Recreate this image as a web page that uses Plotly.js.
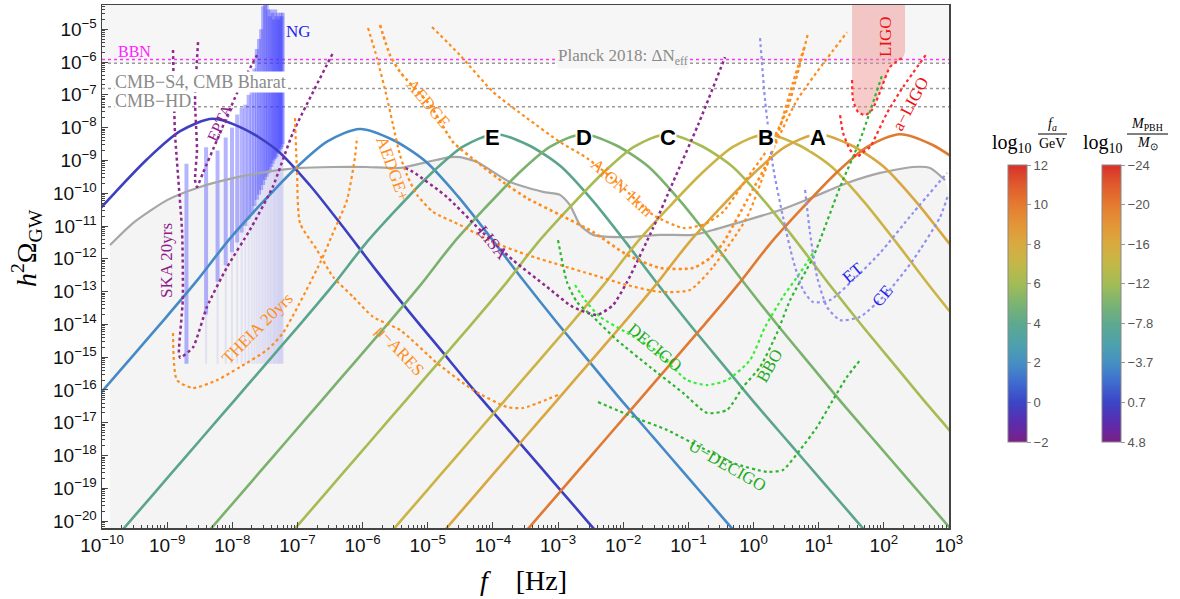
<!DOCTYPE html>
<html><head><meta charset="utf-8">
<script src="https://cdn.plot.ly/plotly-3.0.1.min.js"></script>
<style>html,body{margin:0;padding:0;background:#fff}#plot{width:1180px;height:599px}</style>
</head><body><div id="plot"></div>
<script>
// ---------- DATA (log10 values) ----------
// Axion domain-wall GW spectra (coloured by log10 fa/GeV)
const fa0_logf = [-11.8,-11.3,-10.8,-10.3,-9.8,-9.3,-8.8,-8.3,-7.8,-7.3,-6.8,-6.3,-5.8,-5.3,-4.8,-4.3,-3.8,-3.3,-2.8,-2.3,-1.8];
const fa0_logO = [-14.68,-13.53,-12.35,-11.08,-9.98,-8.95,-8.11,-7.73,-8.06,-8.71,-9.78,-11.03,-12.33,-13.58,-14.78,-15.98,-17.13,-18.28,-19.43,-20.58,-21.73];
const fa2_logf = [-11.04,-10.54,-10.04,-9.54,-9.04,-8.54,-8.04,-7.54,-7.04,-6.54,-6.04,-5.54,-5.04,-4.54,-4.04,-3.54,-3.04,-2.54,-2.04,-1.54,-1.04,-0.54,-0.04];
const fa2_logO = [-18.44,-17.29,-16.14,-14.99,-13.84,-12.66,-11.39,-10.29,-9.26,-8.42,-8.04,-8.37,-9.02,-10.09,-11.34,-12.64,-13.89,-15.09,-16.29,-17.44,-18.59,-19.74,-20.89];
const E_logf = [-9.96,-9.46,-8.96,-8.46,-7.96,-7.46,-6.96,-6.46,-5.96,-5.46,-4.96,-4.46,-3.96,-3.46,-2.96,-2.46,-1.96,-1.46,-0.96,-0.46,0.04,0.54,1.04,1.54,2.04];
const E_logO = [-20.9,-19.75,-18.6,-17.45,-16.3,-15.15,-14.0,-12.82,-11.55,-10.45,-9.42,-8.58,-8.2,-8.53,-9.18,-10.25,-11.5,-12.8,-14.05,-15.25,-16.45,-17.6,-18.75,-19.9,-21.05];
const D_logf = [-8.62,-8.12,-7.62,-7.12,-6.62,-6.12,-5.62,-5.12,-4.62,-4.12,-3.62,-3.12,-2.62,-2.12,-1.62,-1.12,-0.62,-0.12,0.38,0.88,1.38,1.88,2.38,2.88,3.38];
const D_logO = [-20.9,-19.75,-18.6,-17.45,-16.3,-15.15,-14.0,-12.82,-11.55,-10.45,-9.42,-8.58,-8.2,-8.53,-9.18,-10.25,-11.5,-12.8,-14.05,-15.25,-16.45,-17.6,-18.75,-19.9,-21.05];
const C_logf = [-7.33,-6.83,-6.33,-5.83,-5.33,-4.83,-4.33,-3.83,-3.33,-2.83,-2.33,-1.83,-1.33,-0.83,-0.33,0.17,0.67,1.17,1.67,2.17,2.67,3.17];
const C_logO = [-20.9,-19.75,-18.6,-17.45,-16.3,-15.15,-14.0,-12.82,-11.55,-10.45,-9.42,-8.58,-8.2,-8.53,-9.18,-10.25,-11.5,-12.8,-14.05,-15.25,-16.45,-17.6];
const B_logf = [-5.81,-5.31,-4.81,-4.31,-3.81,-3.31,-2.81,-2.31,-1.81,-1.31,-0.81,-0.31,0.19,0.69,1.19,1.69,2.19,2.69,3.19];
const B_logO = [-20.9,-19.75,-18.6,-17.45,-16.3,-15.15,-14.0,-12.82,-11.55,-10.45,-9.42,-8.58,-8.2,-8.53,-9.18,-10.25,-11.5,-12.8,-14.05];
const A_logf = [-5.01,-4.51,-4.01,-3.51,-3.01,-2.51,-2.01,-1.51,-1.01,-0.51,-0.01,0.49,0.99,1.49,1.99,2.49,2.99,3.49];
const A_logO = [-20.9,-19.75,-18.6,-17.45,-16.3,-15.15,-14.0,-12.82,-11.55,-10.45,-9.42,-8.58,-8.2,-8.53,-9.18,-10.25,-11.5,-12.8];
const F10_logf = [-3.75,-3.25,-2.75,-2.25,-1.75,-1.25,-0.75,-0.25,0.25,0.75,1.25,1.75,2.25,2.75,3.25];
const F10_logO = [-20.9,-19.75,-18.6,-17.45,-16.3,-15.15,-14.0,-12.82,-11.55,-10.45,-9.42,-8.58,-8.2,-8.53,-9.18];
const peakLabels = ['E','D','C','B','A'];
const peakLogf = [-4.0,-2.6,-1.31,0.19,0.99];
const peakLogO = -8.3;

// combined sensitivity (grey curve)
const grey_logf = [-9.877,-9.524,-9.002,-8.496,-7.989,-7.467,-6.961,-6.454,-5.932,-5.426,-5.012,-4.659,-4.505,-4.244,-3.737,-3.231,-2.970,-2.817,-2.663,-2.464,-1.942,-1.435,-0.929,-0.622,-0.100,0.407,0.913,1.435,1.942,2.448,2.709,2.940];
const grey_logO = [-11.58,-10.91,-10.21,-9.81,-9.54,-9.35,-9.23,-9.20,-9.20,-9.23,-9.05,-8.90,-8.90,-9.05,-9.66,-9.96,-10.05,-10.36,-10.97,-11.27,-11.34,-11.27,-11.27,-11.12,-10.82,-10.51,-10.12,-9.69,-9.38,-9.20,-9.23,-9.60];

// horizontal bounds
const bbn_logO = -5.92, planck_logO = -6.04, cmbs4_logO = -6.81, cmbhd_logO = -7.36;

// NANOGrav violins
const ng_f = [1.98e-9,3.96e-9,5.94e-9,7.92e-9,9.90e-9,1.19e-8,1.39e-8,1.58e-8,1.78e-8,1.98e-8,2.18e-8,2.38e-8,2.57e-8,2.77e-8,2.97e-8,3.17e-8,3.37e-8,3.56e-8,3.76e-8,3.96e-8,4.16e-8,4.36e-8,4.55e-8,4.75e-8,4.95e-8,5.15e-8,5.35e-8,5.54e-8,5.74e-8,5.94e-8];
const ng_top = [-9.1,-8.6,-8.7,-8.3,-8.0,-7.6,-7.4,-7.3,-7.0,-6.8,-6.2,-5.6,-5.3,-5.0,-4.3,-4.0,-4.0,-4.4,-4.6,-4.4,-4.5,-4.7,-4.4,-4.6,-4.5,-4.7,-4.6,-4.5,-4.6,-4.5];
const ng_bot = [-15.2,-13.7,-12.7,-12.2,-11.8,-11.5,-11.2,-11.0,-10.8,-10.6,-10.4,-10.2,-10.05,-9.9,-9.75,-9.6,-9.5,-9.4,-9.3,-9.2,-9.1,-9.0,-8.95,-8.9,-8.8,-8.75,-8.7,-8.65,-8.6,-8.5];
const ng_floor = -15.2;

// PTA / space / ground detector curves
const ska_logf = [-8.91,-8.88,-8.77,-8.76,-8.82,-8.80,-8.60,-8.39,-8.08,-7.73,-7.38,-7.07,-6.45];
const ska_logO = [-5.63,-8.16,-11.21,-13.26,-14.87,-15.02,-14.69,-13.47,-12.25,-11.12,-9.81,-8.16,-5.70];
const epta_logf = [-8.526,-8.572,-8.542,-8.572,-8.542,-8.450,-8.235,-7.928,-7.621];
const epta_logO = [-5.39,-7.16,-8.68,-9.60,-9.81,-9.38,-8.38,-6.95,-5.79];
const lisa_logf = [-5.349,-5.226,-4.704,-4.198,-3.691,-3.170,-2.770,-2.402,-2.157,-1.942,-1.542,-1.235,-0.852,-0.437];
const lisa_logO = [-9.23,-9.35,-10.12,-11.12,-12.04,-12.86,-13.47,-13.71,-13.41,-12.71,-11.06,-9.66,-7.92,-5.85];
const theia_logf = [-8.910,-8.849,-8.603,-8.235,-7.882,-7.467,-7.222,-6.654,-6.454,-6.240,-6.117,-6.086];
const theia_logO = [-14.26,-15.70,-15.94,-15.70,-15.30,-14.78,-14.26,-12.13,-11.21,-10.21,-8.90,-8.29];
const mares_logf = [-7.038,-7.007,-6.961,-6.700,-6.454,-6.147,-5.840,-5.426,-4.858,-4.305,-3.784,-3.538,-3.001];
const mares_logO = [-7.71,-9.38,-10.91,-11.73,-12.55,-13.16,-13.77,-14.17,-15.18,-16.00,-16.52,-16.55,-16.15];
const aion_logf = [-4.935,-4.505,-3.999,-3.477,-2.970,-2.556,-2.049,-1.543,-1.082,-0.744,-0.468,-0.100,0.207,0.514,0.837];
const aion_logO = [-4.93,-5.79,-6.91,-7.71,-8.44,-8.93,-9.75,-10.66,-11.06,-10.94,-10.57,-9.54,-8.68,-7.46,-5.12];
const aedge_logf = [-5.733,-5.579,-5.426,-5.318,-4.965,-4.612,-4.244,-3.845,-3.477,-2.970,-2.464,-1.942,-1.435,-0.929,-0.668,-0.468,-0.100,0.253,0.407,0.606,0.791];
const aedge_logO = [-4.87,-5.79,-6.30,-6.55,-7.31,-8.44,-9.05,-9.66,-10.15,-10.66,-11.18,-11.88,-12.28,-12.28,-11.98,-11.52,-10.21,-8.90,-7.98,-6.64,-5.48];
const aedgep_logf = [-5.917,-5.779,-5.625,-5.533,-5.426,-5.318,-5.165,-4.919,-4.505,-3.999,-3.477,-2.970,-2.464,-1.942,-1.435,-0.975,-0.622,-0.100,0.299,0.668,1.052,1.435];
const aedgep_logO = [-4.96,-5.88,-7.10,-7.92,-8.84,-9.45,-10.05,-10.57,-10.97,-11.49,-11.88,-12.19,-12.49,-12.80,-13.01,-12.95,-12.25,-10.73,-8.68,-7.16,-6.09,-5.09];
const bbo_logf = [-3.001,-2.863,-2.709,-2.464,-2.095,-1.589,-1.082,-0.714,-0.407,-0.161,0.100,0.361,0.561,0.914,1.328,1.635,1.973];
const bbo_logO = [-11.43,-12.71,-13.32,-13.77,-14.48,-15.30,-16.09,-16.70,-16.61,-15.91,-15.30,-14.26,-13.26,-11.95,-9.81,-8.38,-6.40];
const decigo_logf = [-2.740,-2.586,-2.356,-1.942,-1.512,-1.021,-0.714,-0.407,-0.054,0.177,0.453,0.714,0.914];
const decigo_logO = [-12.80,-13.26,-13.77,-14.26,-14.78,-15.70,-15.85,-15.70,-15.09,-14.08,-13.16,-12.43,-11.82];
const udecigo_logf = [-2.387,-1.850,-1.328,-0.821,-0.315,0.207,0.453,0.714,0.975,1.220,1.435,1.635];
const udecigo_logO = [-16.37,-16.82,-17.22,-17.74,-18.23,-18.50,-18.44,-17.83,-17.13,-16.30,-15.60,-15.09];
const et_logf = [0.100,0.177,0.300,0.453,0.607,0.760,0.914,1.174,1.527,1.942,2.448,2.970];
const et_logO = [-5.27,-7.16,-9.20,-10.73,-12.04,-12.95,-13.32,-13.26,-12.65,-11.82,-10.60,-9.38];
const ce_logf = [0.791,0.867,0.975,1.128,1.328,1.635,2.049,2.448,2.863,2.986];
const ce_logO = [-9.90,-11.21,-12.55,-13.47,-13.87,-13.77,-13.04,-12.04,-10.73,-10.05];
const ligo_logf = [1.512,1.527,1.604,1.711,1.819,1.942,2.095,2.295];
const ligo_logO = [-6.55,-7.16,-7.52,-7.62,-7.46,-6.91,-6.15,-5.85];
const ligoBand_logf = [1.512,1.512,1.527,1.604,1.711,1.819,1.942,2.095,2.295,2.325,2.325];
const ligoBand_logO = [-4.0,-6.55,-7.16,-7.52,-7.62,-7.46,-6.91,-6.15,-5.85,-5.7,-4.0];
const aligo_logf = [1.328,1.374,1.482,1.589,1.666,1.788,2.049,2.295,2.663];
const aligo_logO = [-7.62,-8.16,-8.68,-8.90,-8.77,-8.59,-7.55,-6.76,-5.73];

// axis ticks (decade exponents)
const xTickExp = [-10,-9,-8,-7,-6,-5,-4,-3,-2,-1,0,1,2,3];
const yTickExp = [-20,-19,-18,-17,-16,-15,-14,-13,-12,-11,-10,-9,-8,-7,-6,-5];

// colour bars
const cb_vals = [12,10,8,6,4,2,0,-2];
const cb1_text = ['12','10','8','6','4','2','0','−2'];
const cb2_text = ['−24','−20','−16','−12','−7.8','−3.7','0.7','4.8'];

// ---------- BUILD ----------
const p10 = v => Math.pow(10, v);
const XR = [-10, 3], YR = [-20.21, -4.26];
const X0 = 102, X1 = 949, Y0 = 5, Y1 = 528;
function line(lf, lO, color, width, dash, smooth) {
  return {type:'scatter', mode:'lines', x: lf.map(p10), y: lO.map(p10), hoverinfo:'skip', showlegend:false,
    line:{color:color, width:width, dash:dash||'solid', shape: smooth===0 ? 'linear' : 'spline', smoothing: smooth===undefined ? 0.8 : smooth}};
}
const traces = [];
traces.push({type:'scatter', mode:'lines', x:[p10(-10),p10(3),p10(3),p10(-10)], y:[p10(planck_logO),p10(planck_logO),p10(-4),p10(-4)],
  fill:'toself', fillcolor:'#f6f6f6', line:{width:0}, hoverinfo:'skip', showlegend:false});
traces.push({type:'scatter', mode:'lines', x: grey_logf.map(p10).concat([p10(grey_logf[grey_logf.length-1]), p10(grey_logf[0])]),
  y: grey_logO.map(p10).concat([1e-21,1e-21]), fill:'toself', fillcolor:'#f4f4f4', line:{width:0, shape:'spline', smoothing:0.6}, hoverinfo:'skip', showlegend:false});
const hl = (v, c) => ({type:'scatter', mode:'lines', x:[p10(-10),p10(3)], y:[p10(v),p10(v)], line:{color:c, width:1.5, dash:'dot'}, hoverinfo:'skip', showlegend:false});
traces.push(hl(planck_logO,'#9a9a9a'), hl(cmbs4_logO,'#9a9a9a'), hl(cmbhd_logO,'#9a9a9a'), hl(bbn_logO,'#ff33ff'));
traces.push({type:'scatter', mode:'lines', x: ligoBand_logf.map(p10), y: ligoBand_logO.map(p10), fill:'toself', fillcolor:'rgba(240,140,140,0.45)', line:{width:0}, hoverinfo:'skip', showlegend:false});
// NANOGrav violins
const fx=[], fy=[], dx=[], dy=[];
ng_f.forEach((f,i)=>{ fx.push(f,f,null); fy.push(p10(ng_floor), p10(ng_bot[i]), null); dx.push(f,f,null); dy.push(p10(ng_bot[i]), p10(ng_top[i]), null); });
traces.push({type:'scatter', mode:'lines', x:fx, y:fy, line:{color:'rgba(150,150,240,0.2)', width:2}, hoverinfo:'skip', showlegend:false});
traces.push({type:'scatter', mode:'lines', x:dx, y:dy, line:{color:'rgba(60,60,255,0.38)', width:4}, hoverinfo:'skip', showlegend:false});
traces.push(line(grey_logf, grey_logO, '#a6a6a6', 2.2, 'solid', 0.6));
traces.push(line(fa0_logf, fa0_logO, '#3c40c0', 2.6));
traces.push(line(fa2_logf, fa2_logO, '#4589c6', 2.6));
traces.push(line(E_logf, E_logO, '#5aa58c', 2.6));
traces.push(line(D_logf, D_logO, '#7ab26d', 2.6));
traces.push(line(C_logf, C_logO, '#a6bb52', 2.6));
traces.push(line(B_logf, B_logO, '#cbb446', 2.6));
traces.push(line(A_logf, A_logO, '#d9a741', 2.6));
traces.push(line(F10_logf, F10_logO, '#e07a32', 2.6));
const PUR = '#8e2a8e', ORA = '#ff8c1a', GRN = '#2db52d', LGR = '#33ee33', LBL = '#9090f0', RED = '#ff2a2a';
traces.push(line(ska_logf, ska_logO, PUR, 2.5, 'dot', 0.5));
traces.push(line(epta_logf, epta_logO, PUR, 2.5, 'dot', 0.5));
traces.push(line(lisa_logf, lisa_logO, PUR, 2.5, 'dot', 0.6));
traces.push(line(theia_logf, theia_logO, ORA, 2.2, 'dot', 0.6));
traces.push(line(mares_logf, mares_logO, ORA, 2.2, 'dot', 0.6));
traces.push(line(aion_logf, aion_logO, ORA, 2.2, 'dot', 0.6));
traces.push(line(aedge_logf, aedge_logO, ORA, 2.6, 'dot', 0.6));
traces.push(line(aedgep_logf, aedgep_logO, ORA, 2.2, 'dot', 0.6));
traces.push(line(bbo_logf, bbo_logO, GRN, 2.2, 'dot', 0.6));
traces.push(line(decigo_logf, decigo_logO, LGR, 2.2, 'dot', 0.6));
traces.push(line(udecigo_logf, udecigo_logO, GRN, 2.2, 'dot', 0.5));
traces.push(line(et_logf, et_logO, LBL, 2.2, 'dot', 0.6));
traces.push(line(ce_logf, ce_logO, LBL, 2.2, 'dot', 0.6));
traces.push(line(ligo_logf, ligo_logO, RED, 2.2, 'dot', 0.6));
traces.push(line(aligo_logf, aligo_logO, RED, 2.2, 'dot', 0.5));

const cscale = [[0,'#7b1f86'],[0.0714,'#5a2dae'],[0.1429,'#3b45c7'],[0.2143,'#3f6ccf'],[0.2857,'#4590c4'],[0.3571,'#4ea2aa'],[0.4286,'#5ea98e'],[0.5,'#7cb472'],[0.5714,'#a3bc55'],[0.6429,'#c3b847'],[0.7143,'#d9aa40'],[0.7857,'#e39537'],[0.8571,'#e57a31'],[0.9286,'#df5a2c'],[1,'#d9302a']];
function cbTrace(xp, text) {
  return {type:'scatter', mode:'markers', x:[1e6,1e6], y:[1e-30,1e-30], hoverinfo:'skip', showlegend:false,
    marker:{color:[-2,12], cmin:-2, cmax:12, colorscale:cscale, showscale:true, size:1,
      colorbar:{x:xp, xanchor:'left', xref:'paper', y:(Y1-442)/(Y1-Y0), yanchor:'bottom', len:(442-165)/(Y1-Y0), lenmode:'fraction',
        thickness:19, thicknessmode:'pixels', xpad:0, ypad:0, outlinewidth:1, outlinecolor:'#888',
        tickmode:'array', tickvals:cb_vals, ticktext:text, ticks:'outside', ticklen:4, tickcolor:'#999',
        tickfont:{family:'Liberation Sans, Arial', size:13, color:'#555'}}}};
}
traces.push(cbTrace((1008-X0)/(X1-X0), cb1_text));
traces.push(cbTrace((1102-X0)/(X1-X0), cb2_text));

const SER = 'Liberation Serif, Times New Roman, serif';
function A(px, py, text, color, size, angle, extra) {
  return Object.assign({xref:'paper', yref:'paper', x:(px-X0)/(X1-X0), y:(Y1-py)/(Y1-Y0), text:text, showarrow:false,
    xanchor:'center', yanchor:'middle', textangle:angle||0, font:{family:SER, size:size, color:color}}, extra||{});
}
const ann = [];
const lx = v => (v - XR[0])/(XR[1]-XR[0]) * (X1-X0) + X0;
const ly = v => Y1 - (v - YR[0])/(YR[1]-YR[0]) * (Y1-Y0);
peakLabels.forEach((t,i)=> ann.push(A(lx(peakLogf[i]), ly(peakLogO), '<b>'+t+'</b>', '#000', 22, 0, {font:{family:'Liberation Sans, Arial', size:22, color:'#000'}, bgcolor:'#ffffff', borderpad:0})));
ann.push(A(116, 51, 'BBN', '#ff22ff', 16, 0, {xanchor:'left'}));
ann.push(A(623, 57, 'Planck 2018: ΔN<sub>eff</sub>', '#8a8a8a', 17, 0, {bgcolor:'#f6f6f6', borderpad:0}));
ann.push(A(114, 82, 'CMB−S4, CMB Bharat', '#8a8a8a', 18, 0, {xanchor:'left', bgcolor:'#ffffff', borderpad:0}));
ann.push(A(114, 101, 'CMB−HD', '#8a8a8a', 18, 0, {xanchor:'left', bgcolor:'#ffffff', borderpad:0}));
ann.push(A(298, 32, 'NG', '#2222ee', 17));
ann.push(A(166, 261, 'SKA 20yrs', '#8e1a8e', 17, -90));
ann.push(A(219, 123, 'EPTA', '#8e1a8e', 16, -65));
ann.push(A(257, 328, 'THEIA 20yrs', ORA, 17, -45));
ann.push(A(400, 350, 'μ−ARES', ORA, 17, 47));
ann.push(A(428, 104, 'AEDGE', ORA, 17, 50));
ann.push(A(393, 168, 'AEDGE+', ORA, 17, 70));
ann.push(A(622, 187, 'AION 1km', ORA, 17, 42));
ann.push(A(492, 243, 'LISA', '#8e1a8e', 17, 50));
ann.push(A(655, 347, 'DECIGO', '#22aa22', 17, 40));
ann.push(A(769, 366, 'BBO', '#22aa22', 17, -60));
ann.push(A(727, 466, 'U−DECIGO', '#22aa22', 17, 30));
ann.push(A(852, 273, 'ET', '#2222ee', 17, -40));
ann.push(A(883, 296, 'CE', '#2222ee', 17, -50));
ann.push(A(885, 37, 'LIGO', '#ee1111', 17, -90));
ann.push(A(911, 104, 'a−LIGO', '#ee1111', 17, -62));
ann.push(A(26, 248, '<i>h</i><sup>2</sup>Ω<sub>GW</sub>', '#000', 28, -90));
ann.push(A(523, 580, '<i>f</i>    [Hz]', '#000', 28, 0));
ann.push(A(1012, 143, 'log<sub>10</sub>', '#000', 20));
ann.push(A(1052, 125, '<i>f<sub>a</sub></i>', '#000', 14));
ann.push(A(1052, 143, 'GeV', '#000', 14));
ann.push(A(1103, 143, 'log<sub>10</sub>', '#000', 20));
ann.push(A(1147, 125, '<i>M</i><sub>PBH</sub>', '#000', 14));
ann.push(A(1147, 144, '<i>M</i><sub>⊙</sub>', '#000', 14));
const shapes = [
  {type:'line', xref:'paper', yref:'paper', x0:(1038-X0)/(X1-X0), x1:(1067-X0)/(X1-X0), y0:(Y1-134)/(Y1-Y0), y1:(Y1-134)/(Y1-Y0), line:{color:'#000', width:1}},
  {type:'line', xref:'paper', yref:'paper', x0:(1127-X0)/(X1-X0), x1:(1168-X0)/(X1-X0), y0:(Y1-134)/(Y1-Y0), y1:(Y1-134)/(Y1-Y0), line:{color:'#000', width:1}}
];

const tickLbl = e => '10<sup>' + (e < 0 ? '−' + (-e) : e) + '</sup>';
const axisCommon = {type:'log', showgrid:false, zeroline:false, showline:true, linecolor:'#444', linewidth:1.5, mirror:true,
  ticks:'inside', ticklen:6, tickwidth:1, tickcolor:'#444', tickmode:'array',
  tickfont:{family:'Liberation Sans, Arial', size:19, color:'#111'},
  minor:{ticks:'inside', ticklen:3, tickcolor:'#444', dtick:'D1', showgrid:false}};
const layout = {
  width:1180, height:599, margin:{l:X0, r:1180-X1, t:Y0, b:599-Y1, pad:0},
  paper_bgcolor:'#ffffff', plot_bgcolor:'#ffffff', showlegend:false,
  xaxis:Object.assign({}, axisCommon, {range:XR, tickvals:xTickExp.map(p10), ticktext:xTickExp.map(tickLbl)}),
  yaxis:Object.assign({}, axisCommon, {range:YR, tickvals:yTickExp.map(p10), ticktext:yTickExp.map(tickLbl)}),
  annotations:ann, shapes:shapes
};
Plotly.newPlot('plot', traces, layout, {displayModeBar:false, staticPlot:true});
</script></body></html>
